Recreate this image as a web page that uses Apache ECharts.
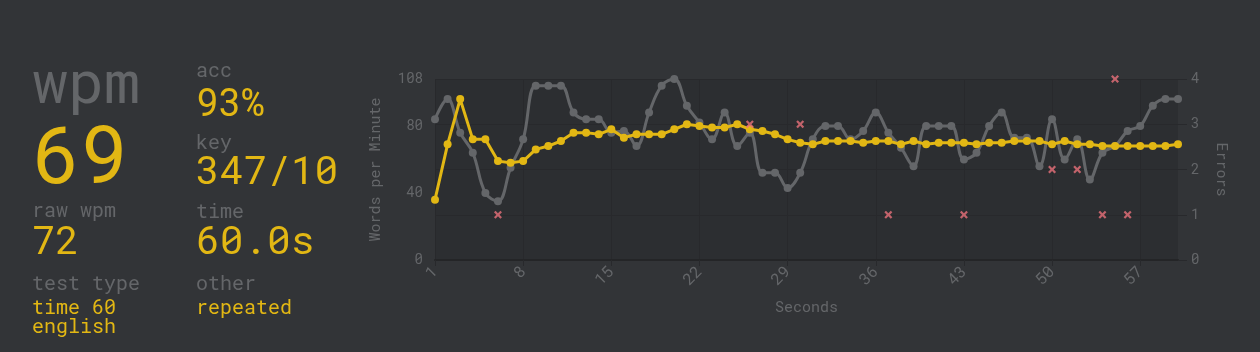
<!DOCTYPE html>
<html>
<head>
<meta charset="utf-8">
<script src="https://cdn.jsdelivr.net/npm/echarts@6/dist/echarts.min.js"></script>
<style>
  html, body { margin: 0; padding: 0; background: #323437; }
  body { width: 1260px; height: 352px; position: relative; overflow: hidden;
         font-family: "Roboto Mono", "DejaVu Sans Mono", monospace; }
  .t { position: absolute; white-space: nowrap; line-height: 1; }
  .sub { color: #646669; }
  .main { color: #e2b714; }
  #chart { position: absolute; left: 0; top: 0; width: 1260px; height: 352px; }
</style>
</head>
<body>
<div id="chart"></div>

<div class="t sub"  style="left:32px;top:50px;font-size:60px;">wpm</div>
<div class="t main" style="left:32px;top:112px;font-size:80px;">69</div>
<div class="t sub"  style="left:32px;top:199px;font-size:20px;">raw wpm</div>
<div class="t main" style="left:32px;top:220px;font-size:39px;">72</div>
<div class="t sub"  style="left:32px;top:272px;font-size:20px;">test type</div>
<div class="t main" style="left:32px;top:296px;font-size:20px;">time 60</div>
<div class="t main" style="left:32px;top:315px;font-size:20px;">english</div>

<div class="t sub"  style="left:196px;top:59px;font-size:20px;">acc</div>
<div class="t main" style="left:196px;top:82px;font-size:38px;">93%</div>
<div class="t sub"  style="left:196px;top:131px;font-size:20px;">key</div>
<div class="t main" style="left:196px;top:150px;font-size:39.5px;">347/10</div>
<div class="t sub"  style="left:196px;top:200px;font-size:20px;">time</div>
<div class="t main" style="left:196px;top:220px;font-size:39.5px;">60.0s</div>
<div class="t sub"  style="left:196px;top:272px;font-size:20px;">other</div>
<div class="t main" style="left:196px;top:296px;font-size:20px;">repeated</div>

<script>
// seconds 1..60
const seconds = [];
for (let i = 1; i <= 60; i++) seconds.push(String(i));

// wpm per second (yellow)
const wpmData = [
  36, 69, 96, 72, 72, 59, 58, 59, 66, 68,
  71, 76, 76, 75, 78, 73, 75, 75, 75, 78,
  81, 80, 79, 79, 81, 78, 77, 75, 72, 70,
  69, 71, 71, 71, 70, 71, 71, 69, 71, 69,
  70, 70, 70, 69, 70, 70, 71, 71, 71, 69,
  71, 69, 69, 68, 68, 68, 68, 68, 68, 69
];

// raw wpm per second (grey)
const rawData = [
  84, 96, 76, 64, 40, 35, 55, 72, 104, 104,
  104, 88, 84, 84, 76, 77, 68, 88, 104, 108,
  92, 82, 72, 88, 68, 76, 52, 52, 43, 52,
  72, 80, 80, 72, 77, 88, 76, 67, 56, 80,
  80, 80, 60, 64, 80, 88, 73, 73, 56, 84,
  60, 72, 48, 64, 68, 77, 80, 92, 96, 96
];

// errors per second
const errorData = [
  0, 0, 0, 0, 0, 1, 0, 0, 0, 0,
  0, 0, 0, 0, 0, 0, 0, 0, 0, 0,
  0, 0, 0, 0, 0, 3, 0, 0, 0, 3,
  0, 0, 0, 0, 0, 0, 1, 0, 0, 0,
  0, 0, 1, 0, 0, 0, 0, 0, 0, 2,
  0, 2, 0, 1, 4, 1, 0, 0, 0, 0
];

const sub = "#646669";
const main = "#e2b714";
const gridLine = "#28292c";
const monoFont = '"Roboto Mono", "DejaVu Sans Mono", monospace';

const chart = echarts.init(document.getElementById("chart"));
const option = {
  animation: false,
  grid: {
    left: 435, right: 82, top: 79, bottom: 92,
    show: true, backgroundColor: "#2c2e31", borderWidth: 0
  },
  xAxis: {
    type: "category",
    data: seconds,
    boundaryGap: false,
    name: "Seconds",
    nameLocation: "middle",
    nameGap: 40,
    nameTextStyle: { color: sub, fontSize: 15, fontFamily: monoFont },
    axisLine: { show: true, lineStyle: { color: "#242527", width: 2 } },
    axisTick: { show: true, interval: 6, length: 6, lineStyle: { color: gridLine } },
    axisLabel: { interval: 6, rotate: 45, color: sub, fontSize: 16, fontFamily: monoFont, margin: 9 },
    splitLine: { show: true, interval: 6, lineStyle: { color: gridLine } }
  },
  yAxis: [
    {
      type: "value",
      min: 0, max: 108, interval: 40,
      name: "Words per Minute",
      nameLocation: "middle",
      nameGap: 52,
      nameTextStyle: { color: sub, fontSize: 15, fontFamily: monoFont },
      axisLine: { show: false },
      axisTick: { show: false },
      axisLabel: { color: sub, fontSize: 14, fontFamily: monoFont, margin: 12, showMaxLabel: true },
      splitLine: { show: false }
    },
    {
      type: "value",
      min: 0, max: 4, interval: 1,
      position: "right",
      name: "Errors",
      nameLocation: "middle",
      nameGap: 36,
      nameRotate: -90,
      nameTextStyle: { color: sub, fontSize: 15, fontFamily: monoFont },
      axisLine: { show: false },
      axisTick: { show: true, length: 9, lineStyle: { color: gridLine } },
      axisLabel: { color: sub, fontSize: 14, fontFamily: monoFont, margin: 13 },
      splitLine: { show: true, lineStyle: { color: gridLine } }
    }
  ],
  series: [
    {
      name: "raw",
      type: "line",
      data: rawData,
      smooth: 0.4,
      symbol: "circle",
      symbolSize: 8,
      lineStyle: { color: sub, width: 3 },
      itemStyle: { color: sub },
      z: 2
    },
    {
      name: "wpm",
      type: "line",
      data: wpmData,
      symbol: "circle",
      symbolSize: 8,
      lineStyle: { color: main, width: 3 },
      itemStyle: { color: main },
      z: 3
    },
    {
      name: "errors",
      type: "scatter",
      yAxisIndex: 1,
      data: errorData.map(v => (v > 0 ? v : null)),
      symbol: "path://M2,0 L5,3 L8,0 L10,2 L7,5 L10,8 L8,10 L5,7 L2,10 L0,8 L3,5 L0,2 Z",
      symbolSize: 8,
      itemStyle: { color: "#e8707a" },
      z: 4
    }
  ]
};
chart.setOption(option);
window.addEventListener("resize", () => chart.resize());
</script>
</body>
</html>
